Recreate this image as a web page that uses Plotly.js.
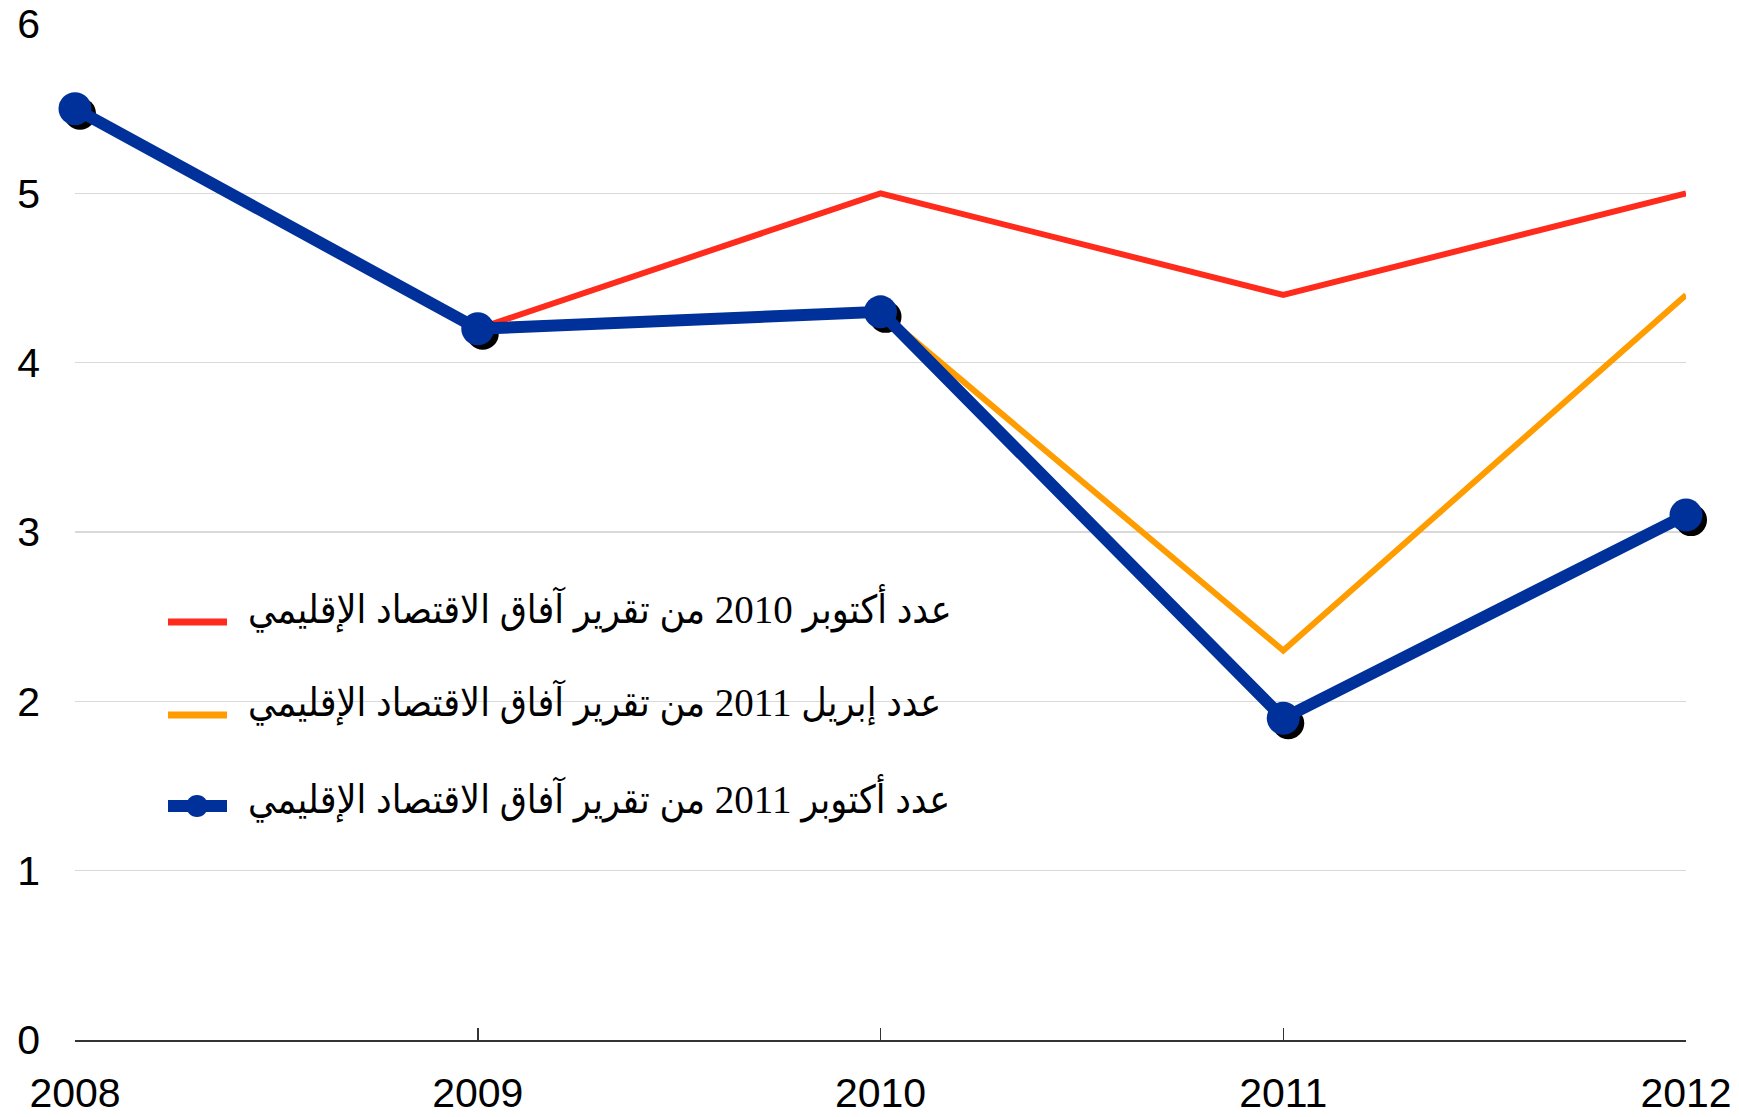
<!DOCTYPE html>
<html>
<head>
<meta charset="utf-8">
<script src="https://cdn.plot.ly/plotly-3.0.1.min.js"></script>
<style>
html,body{margin:0;padding:0;background:#fff;}
#chart{width:1739px;height:1117px;}
</style>
</head>
<body>
<div id="chart"></div>
<script>
// ---- data ----
var years = [2008, 2009, 2010, 2011, 2012];
var oct2010 = [5.5, 4.2, 5.0, 4.4, 5.0];
var apr2011 = [5.5, 4.2, 4.3, 2.3, 4.4];
var oct2011 = [5.5, 4.2, 4.3, 1.9, 3.1];
var seriesNames = [
  'عدد أكتوبر 2010 من تقرير آفاق الاقتصاد الإقليمي',
  'عدد إبريل 2011 من تقرير آفاق الاقتصاد الإقليمي',
  'عدد أكتوبر 2011 من تقرير آفاق الاقتصاد الإقليمي'
];
var yTicks = [0, 1, 2, 3, 4, 5, 6];
var xTickLabels = ['2008', '2009', '2010', '2011', '2012'];

// ---- styling / geometry (pixels) ----
var RED = '#ff2b1c', ORANGE = '#ff9c00', BLUE = '#00309a';
var W = 1739, H = 1117;
var M = {l: 30, r: 20, t: 8, b: 30};                 // outer layout margin
var P = {x0: 75, x1: 1686, y0: 24, y1: 1040};        // plot box of the real axes
var areaW = W - M.l - M.r, areaH = H - M.t - M.b;
var shadowPx = 5;
var xr = [years[0], years[years.length-1]];
var yr = [0, 6];

function px2paperX(p){ return (p - M.l) / areaW; }
function px2paperY(p){ return (H - M.b - p) / areaH; }

var xDom = [px2paperX(P.x0), px2paperX(P.x1)];
var yDom = [px2paperY(P.y1), px2paperY(P.y0)];

// shadow axes: full area, same scale as the real axes, shifted by shadowPx
var sx = (xr[1] - xr[0]) / (P.x1 - P.x0);
var sy = (yr[1] - yr[0]) / (P.y1 - P.y0);
var x2range = [xr[0] - (P.x0 + shadowPx - M.l) * sx, xr[0] + (W - M.r - P.x0 - shadowPx) * sx];
var y2range = [yr[0] - (H - M.b - P.y1 - shadowPx) * sy, yr[0] + (P.y1 + shadowPx - M.t) * sy];

var traces = [
  {x: years, y: oct2010, xaxis: 'x', yaxis: 'y', mode: 'lines', type: 'scatter', name: seriesNames[0],
   line: {color: RED, width: 6}, cliponaxis: false, showlegend: false},
  {x: years, y: apr2011, xaxis: 'x', yaxis: 'y', mode: 'lines', type: 'scatter', name: seriesNames[1],
   line: {color: ORANGE, width: 6}, cliponaxis: false, showlegend: false},
  // drop shadow of the markers
  {x: years, y: oct2011, xaxis: 'x2', yaxis: 'y2', mode: 'markers', type: 'scatter',
   marker: {color: '#000000', size: 32}, cliponaxis: false, hoverinfo: 'skip', showlegend: false},
  {x: years, y: oct2011, xaxis: 'x3', yaxis: 'y3', mode: 'lines+markers', type: 'scatter', name: seriesNames[2],
   line: {color: BLUE, width: 12}, marker: {color: BLUE, size: 33}, cliponaxis: false, showlegend: false}
];

// legend built from shapes + annotations
var legRowsY = [622, 715, 806];
var legTextY = [608, 702, 798];
var legColors = [RED, ORANGE, BLUE];
var legWidths = [7, 7, 12];
var shapes = [
  {type: 'rect', xref: 'paper', yref: 'paper', layer: 'between',
   x0: px2paperX(227), x1: px2paperX(1093), y0: px2paperY(565), y1: px2paperY(850),
   fillcolor: '#ffffff', line: {width: 0}}
];
var annotations = [];
for (var i = 0; i < 3; i++) {
  shapes.push({type: 'line', xref: 'paper', yref: 'paper',
    x0: px2paperX(168), x1: px2paperX(227), y0: px2paperY(legRowsY[i]), y1: px2paperY(legRowsY[i]),
    line: {color: legColors[i], width: legWidths[i]}});
  annotations.push({xref: 'paper', yref: 'paper', x: px2paperX(246), y: px2paperY(legTextY[i]),
    xanchor: 'left', yanchor: 'middle', showarrow: false, text: seriesNames[i],
    font: {family: '"Liberation Serif", "DejaVu Sans Condensed", serif', size: 39, color: '#000'}});
}
shapes.push({type: 'circle', xref: 'paper', yref: 'paper', xsizemode: 'pixel', ysizemode: 'pixel',
  xanchor: px2paperX(197), yanchor: px2paperY(legRowsY[2]), x0: -11, x1: 11, y0: -11, y1: 11,
  fillcolor: BLUE, line: {width: 0}});

var tickFont = {family: '"Liberation Sans", Arial, sans-serif', size: 41, color: '#000'};

var layout = {
  width: W, height: H,
  margin: M,
  paper_bgcolor: '#ffffff', plot_bgcolor: 'rgba(0,0,0,0)',
  showlegend: false,
  xaxis: {domain: xDom, anchor: 'y', range: xr, tickvals: years, ticktext: xTickLabels,
    showgrid: false, zeroline: false,
    ticks: 'inside', ticklen: 12, tickwidth: 1.5, tickcolor: '#333',
    showline: true, linecolor: '#333', linewidth: 1.5,
    tickfont: tickFont, ticklabelstandoff: 16, fixedrange: true},
  yaxis: {domain: yDom, anchor: 'x', range: yr, tickvals: yTicks, ticktext: yTicks.map(String),
    showgrid: true, gridcolor: '#d9d9d9', gridwidth: 1.5, zeroline: false, showline: false,
    ticks: '', tickfont: tickFont, ticklabelstandoff: 34, fixedrange: true},
  xaxis2: {domain: [0, 1], anchor: 'y2', range: x2range, visible: false, fixedrange: true},
  yaxis2: {domain: [0, 1], anchor: 'x2', range: y2range, visible: false, fixedrange: true},
  xaxis3: {domain: xDom, anchor: 'y3', range: xr, visible: false, fixedrange: true},
  yaxis3: {domain: yDom, anchor: 'x3', range: yr, visible: false, fixedrange: true},
  shapes: shapes,
  annotations: annotations
};

Plotly.newPlot('chart', traces, layout, {staticPlot: true, displayModeBar: false});
</script>
</body>
</html>
